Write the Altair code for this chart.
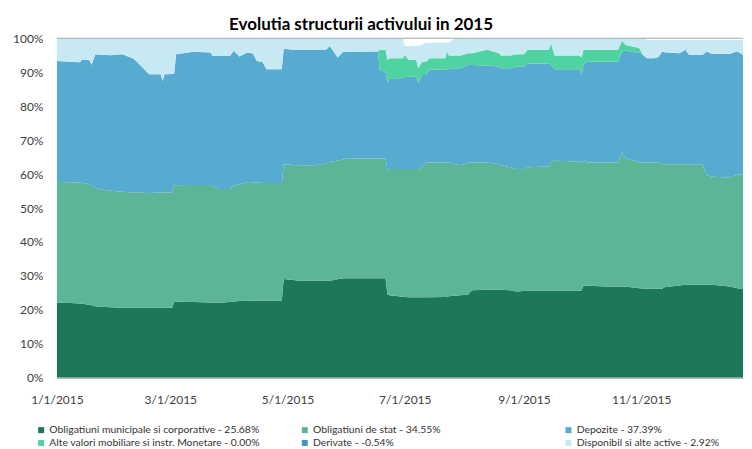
import altair as alt
import pandas as pd

DATES = [
    "2015-01-01", "2015-01-08", "2015-01-13", "2015-01-14", "2015-01-18", "2015-01-19",
    "2015-01-21", "2015-01-23", "2015-01-29", "2015-02-04", "2015-02-10", "2015-02-13",
    "2015-02-18", "2015-02-24", "2015-02-25", "2015-02-26", "2015-03-02", "2015-03-03",
    "2015-03-04", "2015-03-13", "2015-03-22", "2015-03-23", "2015-03-26", "2015-04-01",
    "2015-04-03", "2015-04-06", "2015-04-10", "2015-04-13", "2015-04-15", "2015-04-18",
    "2015-04-20", "2015-04-28", "2015-04-29", "2015-05-04", "2015-05-07", "2015-05-16",
    "2015-05-21", "2015-05-23", "2015-05-27", "2015-05-30", "2015-06-01", "2015-06-17",
    "2015-06-18", "2015-06-21", "2015-06-22", "2015-06-23", "2015-06-30", "2015-07-01",
    "2015-07-03", "2015-07-07", "2015-07-08", "2015-07-10", "2015-07-12", "2015-07-14",
    "2015-07-22", "2015-07-23", "2015-07-24", "2015-07-27", "2015-07-30", "2015-08-03",
    "2015-08-05", "2015-08-13", "2015-08-19", "2015-08-20", "2015-08-25", "2015-08-28",
    "2015-09-01", "2015-09-03", "2015-09-14", "2015-09-15", "2015-09-17", "2015-09-30",
    "2015-10-01", "2015-10-02", "2015-10-04", "2015-10-14", "2015-10-20", "2015-10-22",
    "2015-10-24", "2015-10-28", "2015-10-31", "2015-11-02", "2015-11-04", "2015-11-08",
    "2015-11-10", "2015-11-12", "2015-11-13", "2015-11-21", "2015-11-24", "2015-11-26",
    "2015-12-03", "2015-12-05", "2015-12-08", "2015-12-17", "2015-12-21", "2015-12-24",
]

MUNICIPALE = [
    22.1, 22.0, 21.9, 21.8, 21.5, 21.4, 21.1, 20.9, 20.8, 20.6, 20.6, 20.6,
    20.6, 20.6, 20.6, 20.6, 20.6, 22.4, 22.4, 22.3, 22.2, 22.2, 22.1, 22.3,
    22.5, 22.6, 22.7, 22.8, 22.8, 22.8, 22.8, 22.8, 29.1, 28.8, 28.6, 28.6,
    28.6, 28.6, 29.0, 29.3, 29.3, 29.3, 29.3, 29.3, 24.5, 24.3, 23.9, 23.8,
    23.7, 23.7, 23.7, 23.7, 23.7, 23.7, 23.8, 23.9, 24.0, 24.2, 24.3, 24.5,
    25.8, 25.9, 25.9, 25.9, 25.8, 25.4, 25.6, 25.7, 25.7, 25.7, 25.7, 25.7,
    25.7, 27.2, 27.1, 26.9, 26.9, 26.9, 26.8, 26.6, 26.4, 26.3, 26.2, 26.2,
    26.2, 26.2, 26.7, 27.2, 27.4, 27.4, 27.4, 27.4, 27.4, 26.9, 26.4, 26.1,
]

STAT = [
    35.6, 35.6, 35.6, 35.6, 35.5, 35.2, 34.9, 34.6, 34.3, 34.2, 34.0, 33.9,
    33.8, 34.0, 33.9, 34.0, 34.0, 34.2, 34.3, 34.5, 34.6, 34.3, 33.5, 33.3,
    34.1, 34.4, 35.0, 34.8, 34.7, 34.6, 34.6, 34.6, 33.8, 33.9, 34.0, 34.0,
    34.6, 35.0, 34.9, 35.0, 35.3, 35.3, 35.3, 35.3, 36.5, 37.2, 37.6, 37.7,
    37.8, 37.8, 37.8, 38.3, 39.7, 39.7, 39.6, 39.5, 39.4, 38.8, 38.3, 38.8,
    37.6, 37.5, 37.0, 36.7, 36.2, 36.1, 35.9, 36.3, 36.5, 37.8, 38.2, 38.0,
    37.2, 37.0, 36.3, 36.5, 36.5, 39.5, 37.8, 37.4, 37.0, 37.1, 37.2, 37.2,
    37.1, 36.8, 36.2, 35.7, 35.5, 35.5, 35.5, 32.3, 31.8, 32.1, 33.4, 33.9,
]

DEPOZITE = [
    35.6, 35.5, 35.4, 36.3, 36.5, 35.6, 39.3, 39.7, 39.9, 40.5, 39.4, 37.8,
    35.0, 34.8, 32.9, 34.8, 34.9, 33.0, 38.6, 39.2, 39.0, 38.3, 39.2, 39.2,
    39.7, 37.6, 38.1, 37.9, 35.8, 35.6, 33.5, 33.5, 34.0, 33.9, 34.0, 34.0,
    33.4, 34.1, 30.4, 31.7, 31.4, 31.5, 25.8, 25.6, 25.8, 26.7, 26.7, 27.0,
    27.2, 27.2, 25.3, 27.2, 25.8, 27.3, 27.3, 27.5, 27.8, 28.2, 28.6, 28.8,
    28.7, 28.6, 28.8, 28.6, 29.2, 30.2, 30.2, 30.6, 30.4, 28.7, 27.0, 27.2,
    26.3, 28.1, 29.7, 29.7, 29.7, 29.7, 31.8, 31.9, 32.5, 31.7, 30.7, 30.7,
    31.2, 33.1, 33.0, 32.7, 33.7, 32.2, 32.2, 36.4, 36.2, 36.4, 36.4, 35.1,
]

ALTE_VALORI = [
    0.0, 0.0, 0.0, 0.0, 0.0, 0.0, 0.0, 0.0, 0.0, 0.0, 0.0, 0.0,
    0.0, 0.0, 0.0, 0.0, 0.0, 0.0, 0.0, 0.0, 0.0, 0.0, 0.0, 0.0,
    0.0, 0.0, 0.0, 0.0, 0.0, 0.0, 0.0, 0.0, 0.0, 0.0, 0.0, 0.0,
    0.0, 0.0, 0.0, 0.0, 0.0, 0.0, 6.2, 6.4, 6.8, 5.9, 5.9, 6.6,
    4.9, 4.9, 4.4, 3.9, 3.9, 3.4, 3.4, 5.2, 3.7, 3.7, 3.7, 3.5,
    3.5, 4.6, 3.9, 3.7, 3.7, 3.6, 3.6, 4.0, 4.0, 6.3, 4.0, 4.0,
    5.1, 4.3, 3.5, 3.5, 3.5, 3.2, 1.6, 1.6, 1.2, 0.0, 0.0, 0.0,
    0.0, 0.0, 0.0, 0.0, 0.0, 0.0, 0.0, 0.0, 0.0, 0.0, 0.0, 0.0,
]

DERIVATE = [0.0] * len(DATES)

DISPONIBIL = [
    6.7, 6.9, 7.1, 6.3, 6.5, 7.8, 4.7, 4.8, 5.0, 4.7, 6.0, 7.7,
    10.6, 10.6, 12.6, 10.6, 10.5, 10.4, 4.7, 4.0, 4.2, 5.2, 5.2, 5.2,
    3.7, 5.4, 4.2, 4.5, 6.7, 7.0, 9.1, 9.1, 3.1, 3.4, 3.4, 3.4,
    3.4, 2.3, 5.7, 4.0, 4.0, 3.9, 3.4, 3.4, 6.4, 5.9, 5.9, 2.6,
    4.1, 4.1, 6.5, 4.9, 5.6, 4.6, 4.6, 2.6, 3.8, 5.1, 5.1, 4.4,
    4.4, 3.4, 4.4, 5.1, 5.1, 4.7, 4.7, 3.4, 3.4, 1.5, 5.1, 5.1,
    5.7, 3.4, 3.4, 3.4, 3.4, 0.7, 2.0, 2.5, 2.9, 4.9, 5.4, 5.4,
    5.0, 3.4, 3.6, 3.9, 2.9, 4.4, 4.4, 3.4, 4.1, 4.1, 3.3, 4.4,
]

SERIES = [
    "Obligatiuni municipale si corporative - 25.68%",
    "Obligatiuni de stat - 34.55%",
    "Depozite - 37.39%",
    "Alte valori mobiliare si instr. Monetare - 0.00%",
    "Derivate - -0.54%",
    "Disponibil si alte active - 2.92%",
]
COLORS = ["#1d775a", "#5bb596", "#58abd0", "#4ed3a1", "#3d98bb", "#c7e9f3"]

TICK_LABEL_MONTHS = [1, 3, 5, 7, 9, 11]
Y_TICKS = [0, 10, 20, 30, 40, 50, 60, 70, 80, 90, 100]

values_by_series = [MUNICIPALE, STAT, DEPOZITE, ALTE_VALORI, DERIVATE, DISPONIBIL]
rows = []
for idx, (name, vals) in enumerate(zip(SERIES, values_by_series)):
    assert len(vals) == len(DATES), name
    for d, v in zip(DATES, vals):
        rows.append({"date": d + "T00:00:00", "series": name, "value": v, "idx": idx})
df = pd.DataFrame(rows)

FONT = "Lato"
AXIS_GRAY = "#a6a6a6"
LABEL_COLOR = "#404040"

y_scale = alt.Scale(domain=[0, 100], nice=False)
y_axis = alt.Axis(
    values=Y_TICKS, labelExpr="datum.value + '%'",
    title=None, grid=False, ticks=False, labelPadding=14,
    minExtent=49, maxExtent=49, domainColor=AXIS_GRAY,
    labelFontSize=12, labelColor=LABEL_COLOR, labelFont=FONT,
    labelOverlap=False,
)

area = alt.Chart(df).mark_area(interpolate="linear", clip=True).encode(
    x=alt.X(
        "date:T",
        scale=alt.Scale(domain=[alt.DateTime(year=2015, month=1, date=1),
                                alt.DateTime(year=2015, month=12, date=24)]),
        axis=alt.Axis(
            values=[alt.DateTime(year=2015, month=m, date=1) for m in TICK_LABEL_MONTHS],
            format="%-m/%-d/%Y", title=None, grid=False, ticks=False,
            labelPadding=17, domainColor=AXIS_GRAY, labelFontSize=12,
            labelColor=LABEL_COLOR, labelFont=FONT, labelFlush=False,
            labelOverlap=False,
        ),
    ),
    y=alt.Y("value:Q", stack="zero", scale=y_scale, axis=y_axis),
    color=alt.Color(
        "series:N",
        scale=alt.Scale(domain=SERIES, range=COLORS),
        legend=alt.Legend(
            title=None, orient="none", legendX=-21, legendY=387, columns=3,
            direction="horizontal", gridAlign="all", columnPadding=39, rowPadding=2,
            symbolType="square", symbolSize=36, symbolStrokeWidth=0, labelOffset=3,
            labelFontSize=10.4, labelFont=FONT, labelColor="#333333", labelLimit=400,
        ),
    ),
    order=alt.Order("idx:Q"),
)

top_line = alt.Chart(pd.DataFrame({"value": [100]})).mark_rule(color=AXIS_GRAY).encode(
    y=alt.Y("value:Q", scale=y_scale, axis=y_axis)
)

chart = alt.layer(area, top_line).properties(
    width=687, height=340,
    padding={"left": 0, "top": 8, "right": 0, "bottom": 0},
    title=alt.TitleParams(
        "Evolutia structurii activului in  2015", font=FONT, fontSize=17,
        fontWeight="bold", color="#000000", dx=-39, offset=-2,
    ),
).configure_view(stroke=None)

chart.save("out.html", embed_options={"renderer": "svg", "actions": False})
